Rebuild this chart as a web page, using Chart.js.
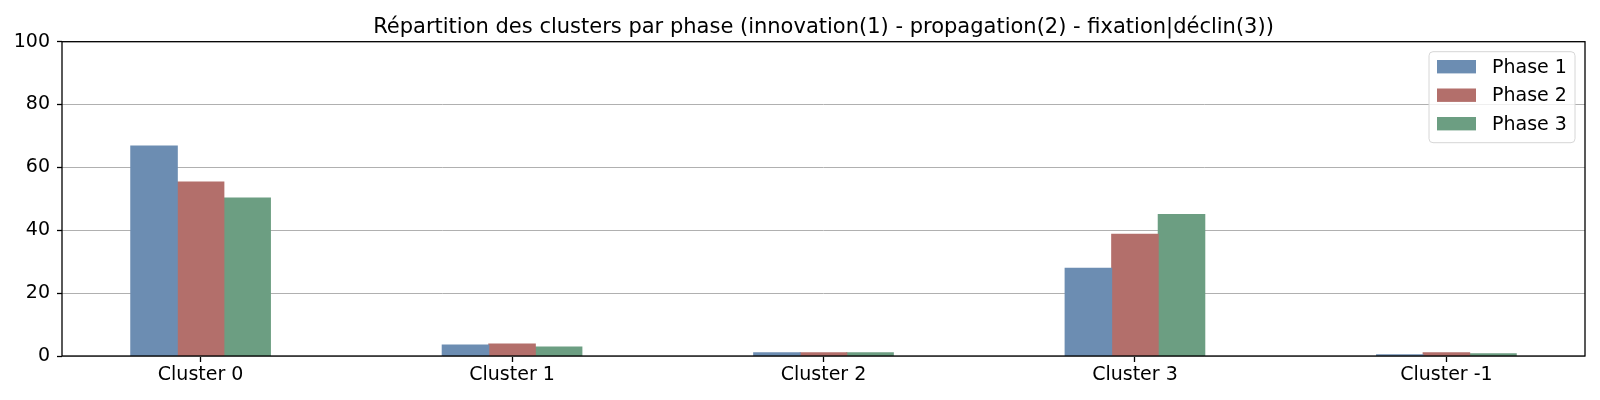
<!DOCTYPE html>
<html>
<head>
<meta charset="utf-8">
<script src="https://cdn.jsdelivr.net/npm/chart.js@4.4.1/dist/chart.umd.min.js"></script>
<style>
  body { margin: 0; background: #fff; }
</style>
</head>
<body>
<canvas id="myChart" width="1600" height="400"></canvas>
<script>
const clusters = ['Cluster 0', 'Cluster 1', 'Cluster 2', 'Cluster 3', 'Cluster -1'];
const phaseNames = ['Phase 1', 'Phase 2', 'Phase 3'];
const phase1 = [66.8, 3.5, 1.0, 27.9, 0.4];
const phase2 = [55.4, 3.8, 1.0, 38.7, 1.05];
const phase3 = [50.3, 2.9, 1.0, 45.0, 0.75];
const yTicks = [0, 20, 40, 60, 80, 100];

const colors = ['#6c8db2', '#b36f6b', '#6c9e82'];
const font = "'DejaVu Sans', sans-serif";

// bars sit on a linear x axis so the outer margins can match the original
const toPoints = (values) => values.map((v, i) => ({ x: i, y: v }));

// frame around the plot + legend box in the top right corner
const framePlugin = {
  id: 'frame',
  afterLayout(chart) {
    // centre the title over the plot area, not the whole canvas
    if (chart.titleBlock) {
      chart.titleBlock.left = chart.chartArea.left;
      chart.titleBlock.right = chart.chartArea.right;
    }
  },
  afterDatasetsDraw(chart) {
    const { ctx, chartArea } = chart;
    ctx.save();
    ctx.strokeStyle = '#000';
    ctx.lineWidth = 1.3;
    ctx.strokeRect(chartArea.left, chartArea.top, chartArea.right - chartArea.left, chartArea.bottom - chartArea.top);

    // legend
    const w = 146, h = 91;
    const x = chartArea.right - 10 - w;
    const y = chartArea.top + 10;
    ctx.beginPath();
    ctx.roundRect(x, y, w, h, 4);
    ctx.fillStyle = 'rgba(255,255,255,0.8)';
    ctx.fill();
    ctx.strokeStyle = '#d6d6d6';
    ctx.lineWidth = 1;
    ctx.stroke();
    ctx.font = '19px ' + font;
    ctx.textBaseline = 'middle';
    chart.data.datasets.forEach((ds, i) => {
      const cy = y + 15 + i * 28.5;
      ctx.fillStyle = ds.backgroundColor;
      ctx.fillRect(x + 8, cy - 6.7, 39, 13.4);
      ctx.fillStyle = '#000';
      ctx.fillText(ds.label, x + 63, cy + 1);
    });
    ctx.restore();
  }
};

const ctx = document.getElementById('myChart').getContext('2d');
new Chart(ctx, {
  type: 'bar',
  data: {
    datasets: [phase1, phase2, phase3].map((vals, i) => ({
      label: phaseNames[i],
      data: toPoints(vals),
      backgroundColor: colors[i],
      borderWidth: 0,
      inflateAmount: 0.5,
      categoryPercentage: 0.4485,
      barPercentage: 1
    }))
  },
  options: {
    responsive: false,
    animation: false,
    devicePixelRatio: 1,
    layout: { padding: { left: 0, right: 15, top: 0, bottom: 0 } },
    plugins: {
      legend: { display: false },
      tooltip: { enabled: false },
      title: {
        display: true,
        text: 'Répartition des clusters par phase (innovation(1) - propagation(2) - fixation|déclin(3))',
        color: '#000',
        font: { family: font, size: 21, weight: 'normal' },
        padding: { top: 14.5, bottom: 2 }
      }
    },
    scales: {
      x: {
        type: 'linear',
        offset: false,
        min: -0.445,
        max: clusters.length - 1 + 0.445,
        afterBuildTicks(scale) {
          scale.ticks = clusters.map((_, i) => ({ value: i }));
        },
        afterFit(scale) { scale.height = 44; },
        ticks: {
          stepSize: 1,
          includeBounds: false,
          autoSkip: false,
          maxRotation: 0,
          padding: 2,
          color: '#000',
          font: { family: font, size: 19 },
          callback: (v) => clusters[v] ?? ''
        },
        grid: { offset: false, drawOnChartArea: false, tickLength: 6, tickColor: '#000', tickWidth: 1.3 },
        border: { display: false }
      },
      y: {
        min: 0,
        max: 100,
        afterBuildTicks(scale) {
          scale.ticks = yTicks.map(v => ({ value: v }));
        },
        afterFit(scale) { scale.width = 62; },
        ticks: {
          padding: 7,
          color: '#000',
          font: { family: font, size: 19 }
        },
        grid: { color: '#b0b0b0', lineWidth: 1, tickLength: 5, tickColor: '#000', tickWidth: 1.3 },
        border: { display: false }
      }
    }
  },
  plugins: [framePlugin]
});
</script>
</body>
</html>
